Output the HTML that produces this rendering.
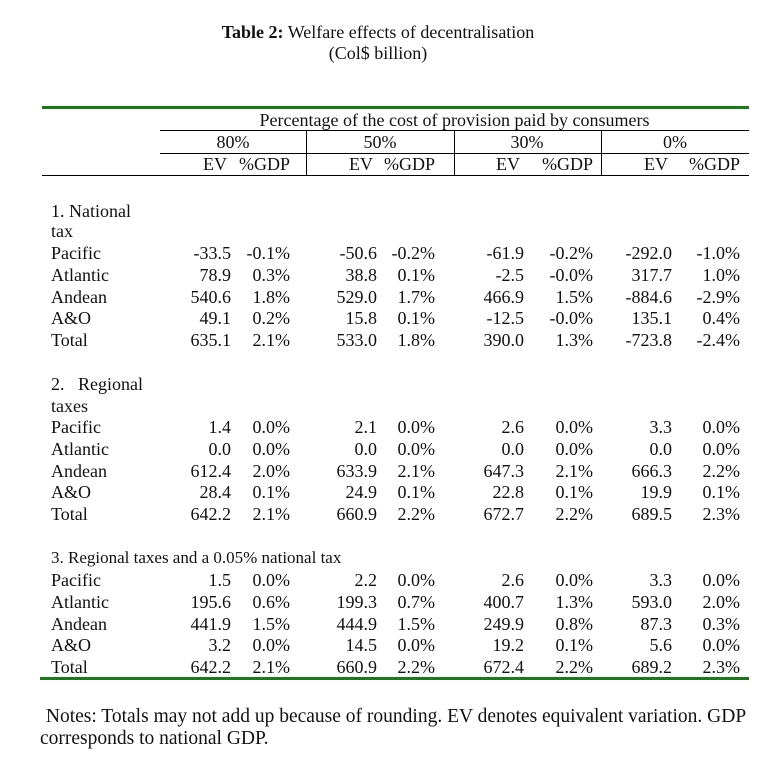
<!DOCTYPE html>
<html><head><meta charset="utf-8"><style>
body{margin:0;width:778px;height:761px;background:#fff;position:relative;font-family:"Liberation Serif",serif;font-size:18px;color:#111;overflow:hidden}
.t{position:absolute;white-space:pre;line-height:20px}
.r{text-align:right}
.ln{position:absolute;background:#000}
</style></head><body>
<div class="t" style="left:0;width:756px;text-align:center;top:22px"><b>Table 2:</b> Welfare effects of decentralisation</div>
<div class="t" style="left:0;width:756px;text-align:center;top:43px">(Col$ billion)</div>
<div class="ln" style="left:42px;top:106px;width:707px;height:3px;background:#1a7a1a"></div>
<div class="t" style="left:160px;width:589px;text-align:center;top:110px">Percentage of the cost of provision paid by consumers</div>
<div class="ln" style="left:160px;top:130px;width:589px;height:1px"></div>
<div class="ln" style="left:160px;top:153px;width:589px;height:1px"></div>
<div class="ln" style="left:42px;top:175px;width:707px;height:1px"></div>
<div class="ln" style="left:306px;top:131px;width:1px;height:44px"></div>
<div class="ln" style="left:454px;top:131px;width:1px;height:44px"></div>
<div class="ln" style="left:601px;top:131px;width:1px;height:44px"></div>
<div class="ln" style="left:40px;top:677px;width:709px;height:3px;background:#1a7a1a"></div>
<div class="t" style="left:41px;top:707px;font-size:19.5px"> Notes: Totals may not add up because of rounding. EV denotes equivalent variation. GDP</div>
<div class="t" style="left:40px;top:729px;font-size:19.5px">corresponds to national GDP.</div>
<div id="c"></div>
<script>
const groups=["80%","50%","30%","0%"];
const groupCenters=[233,380,527,675];
const evRight=[231,377,524,672];
const gdpRight=[290,435,593,740];
const labels1=["Pacific","Atlantic","Andean","A&O","Total"];
const ev1=[["-33.5","-0.1%","-50.6","-0.2%","-61.9","-0.2%","-292.0","-1.0%"],["78.9","0.3%","38.8","0.1%","-2.5","-0.0%","317.7","1.0%"],["540.6","1.8%","529.0","1.7%","466.9","1.5%","-884.6","-2.9%"],["49.1","0.2%","15.8","0.1%","-12.5","-0.0%","135.1","0.4%"],["635.1","2.1%","533.0","1.8%","390.0","1.3%","-723.8","-2.4%"]];
const ev2=[["1.4","0.0%","2.1","0.0%","2.6","0.0%","3.3","0.0%"],["0.0","0.0%","0.0","0.0%","0.0","0.0%","0.0","0.0%"],["612.4","2.0%","633.9","2.1%","647.3","2.1%","666.3","2.2%"],["28.4","0.1%","24.9","0.1%","22.8","0.1%","19.9","0.1%"],["642.2","2.1%","660.9","2.2%","672.7","2.2%","689.5","2.3%"]];
const ev3=[["1.5","0.0%","2.2","0.0%","2.6","0.0%","3.3","0.0%"],["195.6","0.6%","199.3","0.7%","400.7","1.3%","593.0","2.0%"],["441.9","1.5%","444.9","1.5%","249.9","0.8%","87.3","0.3%"],["3.2","0.0%","14.5","0.0%","19.2","0.1%","5.6","0.0%"],["642.2","2.1%","660.9","2.2%","672.4","2.2%","689.2","2.3%"]];
const c=document.getElementById('c');
function add(txt,x,y,right,name){const d=document.createElement('div');d.className='t'+(right?' r':'');d.textContent=txt;
if(right){d.style.left=(x-120)+'px';d.style.width='120px';}else d.style.left=x+'px';
d.style.top=(y-10)+'px';


c.appendChild(d);return d;}
groups.forEach((g,i)=>{const d=document.createElement('div');d.className='t';d.textContent=g;d.style.left=(groupCenters[i]-60)+'px';d.style.width='120px';d.style.textAlign='center';d.style.top='132px';


c.appendChild(d);
add("EV",evRight[i]-4,164,true,'ev-header');add("%GDP",gdpRight[i],164,true,'gdp-header');});
add("1. National",51,211,false,'section-1-title');add("tax",51,231,false,'section-1-title');
add("2.   Regional",51,384,false,'section-2-title');add("taxes",51,406,false,'section-2-title');
add("3. Regional taxes and a 0.05% national tax",51,558,false,'section-3-title').style.fontSize='17px';
function block(data,y0){data.forEach((row,r)=>{const y=y0+r*21.8;add(labels1[r],51,y,false,'row-label');
row.forEach((v,k)=>{const i=k>>1;add(v,k%2?gdpRight[i]:evRight[i],y,true,'cell');});});}
block(ev1,253);block(ev2,427);block(ev3,580);
</script>
</body></html>
